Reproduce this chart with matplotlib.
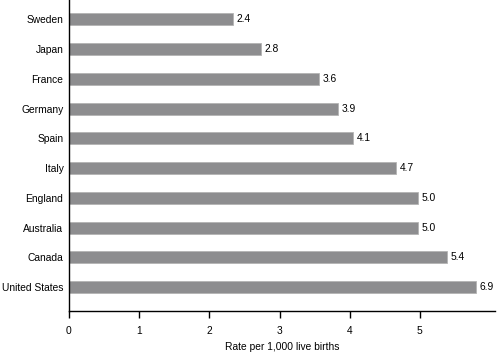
import matplotlib
matplotlib.use('Agg')
import matplotlib.pyplot as plt
import numpy as np

countries = ['Sweden', 'Japan', 'France', 'Germany', 'Spain', 'Italy',
             'England', 'Australia', 'Canada', 'United States']
rates = [2.4, 2.8, 3.6, 3.9, 4.1, 4.7, 5.0, 5.0, 5.4, 6.9]
# bar lengths as drawn in the original (US bar is truncated there)
bar_lengths = [2.33, 2.73, 3.56, 3.84, 4.05, 4.66, 4.97, 4.97, 5.38, 5.80]
x_ticks = [0, 1, 2, 3, 4, 5]

BAR_COLOR = '#8d8d8f'
FS = 7.4

plt.rcParams['font.family'] = ['Liberation Sans', 'DejaVu Sans']

fig = plt.figure(figsize=(5.0, 3.53), dpi=100)
ax = fig.add_axes([0.138, 0.119, 0.852, 0.881])

y = np.arange(len(countries))
bars = ax.barh(y, bar_lengths, height=0.4, color=BAR_COLOR,
               edgecolor='#b4b4b4', linewidth=0.6)

for bar, val in zip(bars, rates):
    ax.text(bar.get_width() + 0.05, bar.get_y() + bar.get_height() / 2,
            f'{val:.1f}', va='center', ha='left', fontsize=FS)

ax.set_yticks(y)
ax.set_yticklabels(countries, fontsize=FS)
ax.tick_params(axis='y', length=0, pad=4)
ax.set_ylim(9.8, -0.65)

ax.set_xlim(0, 6.07)
ax.set_xticks(x_ticks)
ax.tick_params(axis='x', direction='out', length=5, width=1, labelsize=FS, pad=6)
ax.set_xlabel('Rate per 1,000 live births', fontsize=FS, labelpad=4)

for side in ('top', 'right'):
    ax.spines[side].set_visible(False)
for side in ('left', 'bottom'):
    ax.spines[side].set_linewidth(1)

fig.savefig('out.png', dpi=100)
